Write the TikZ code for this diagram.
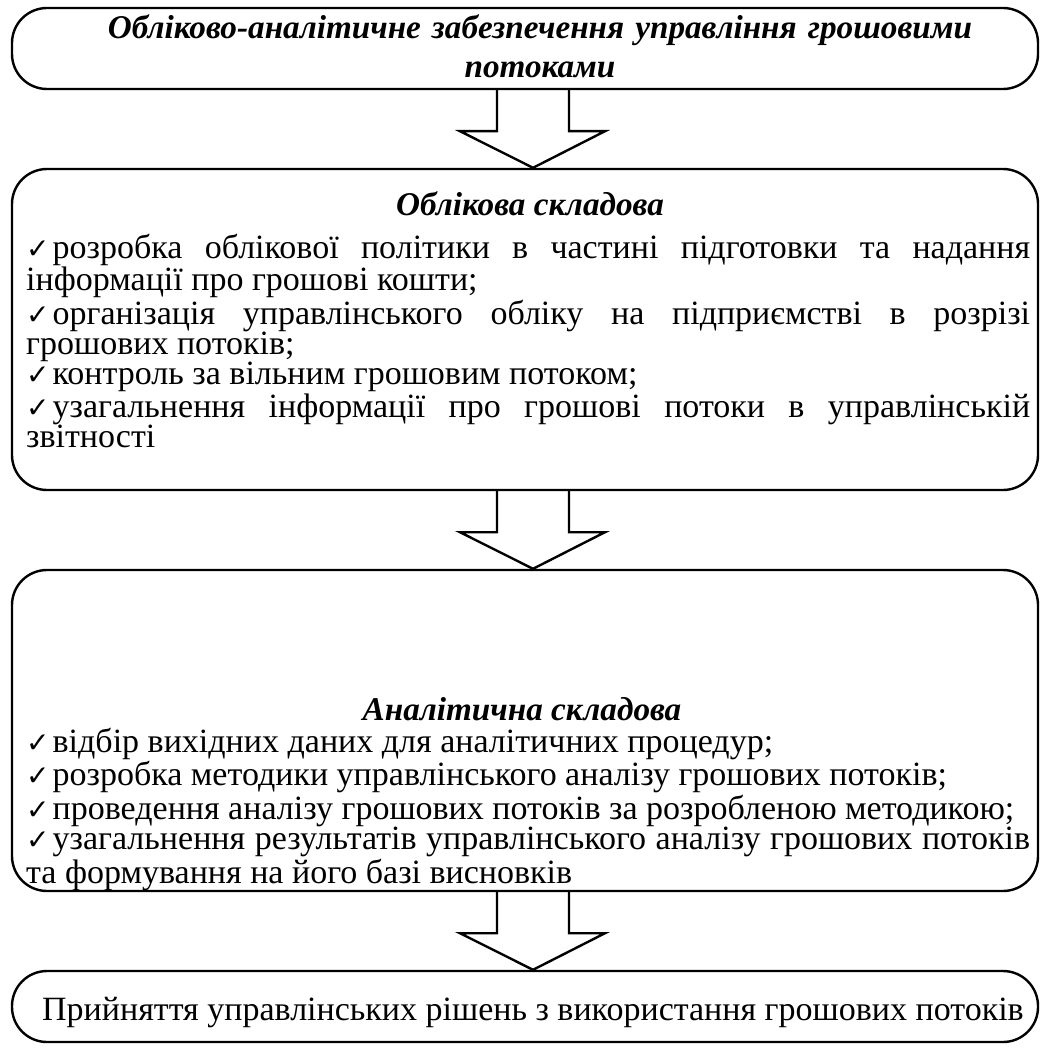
\documentclass[tikz,border=0pt]{standalone}
\usepackage{fontspec}
\setmainfont{Liberation Serif}
\newfontfamily\checkfont{DejaVu Sans}
\usetikzlibrary{calc}
\setlength{\parindent}{0pt}
\setlength{\lineskiplimit}{-20pt}
\newcommand{\chk}{{\checkfont\fontsize{14}{14}\selectfont ✓}\kern1.5pt}
\newcommand{\listfont}{\fontsize{17}{15}\selectfont}

\begin{document}
\begin{tikzpicture}[x=.5pt,y=-.5pt,line width=1.2pt,
 box/.style={draw,rounded corners=17.5pt,minimum width=513pt,inner sep=0pt},
 head/.style={font=\fontsize{16.6}{19.5}\selectfont\bfseries\itshape,anchor=base,align=center,inner sep=0pt},
 items/.style={font=\listfont,text width=502pt,align=justify,anchor=base west,inner sep=0pt}]
\useasboundingbox (0,0) rectangle (1043,1048);
\node[box,minimum height=40.5pt] (top) at (525,48.5) {};
\node[box,minimum height=160.5pt] (acc) at (525,329.5) {};
\node[box,minimum height=160.5pt] (anl) at (525,730.5) {};
\node[box,minimum height=35.5pt] (dec) at (525,1006.5) {};
\foreach \a/\b in {top/acc,acc/anl,anl/dec}
 \draw ($(\a.south)+(-28,0)$) -- ++(0,41) -- ++(-37,0) -- ($(\b.north)+(8,0)$)
  -- ($(\a.south)+(80,41)$) -- ++(-36,0) -- ++(0,-41);
\node[head,text width=460pt] (title) at (540,39)
 {Обліково-аналітичне забезпечення управління грошовими\\потоками};
\node[head] (acchead) at (530,216) {Облікова складова};
\node[items] (acclist) at (25,258) {\chk розробка облікової політики в частині підготовки та надання\linebreak
 інформації про грошові кошти;\par
 \chk організація управлінського обліку на підприємстві в розрізі\linebreak
 грошових потоків;\par
 \chk контроль за вільним грошовим потоком;\par
 \chk узагальнення інформації про грошові потоки в управлінській\linebreak
 звітності};
\node[head] (anlhead) at (522,720) {Аналітична складова};
\node[items] (anllist) at (25,752) {\chk відбір вихідних даних для аналітичних процедур;\par
 \chk розробка методики управлінського аналізу грошових потоків;\par
 \chk проведення аналізу грошових потоків за розробленою методикою;\par
 \chk узагальнення результатів управлінського аналізу грошових потоків\linebreak
 та формування на його базі висновків};
\node[font=\listfont,anchor=base] (dectext) at (533,1020)
 {Прийняття управлінських рішень з використання грошових потоків};
\end{tikzpicture}
\end{document}
